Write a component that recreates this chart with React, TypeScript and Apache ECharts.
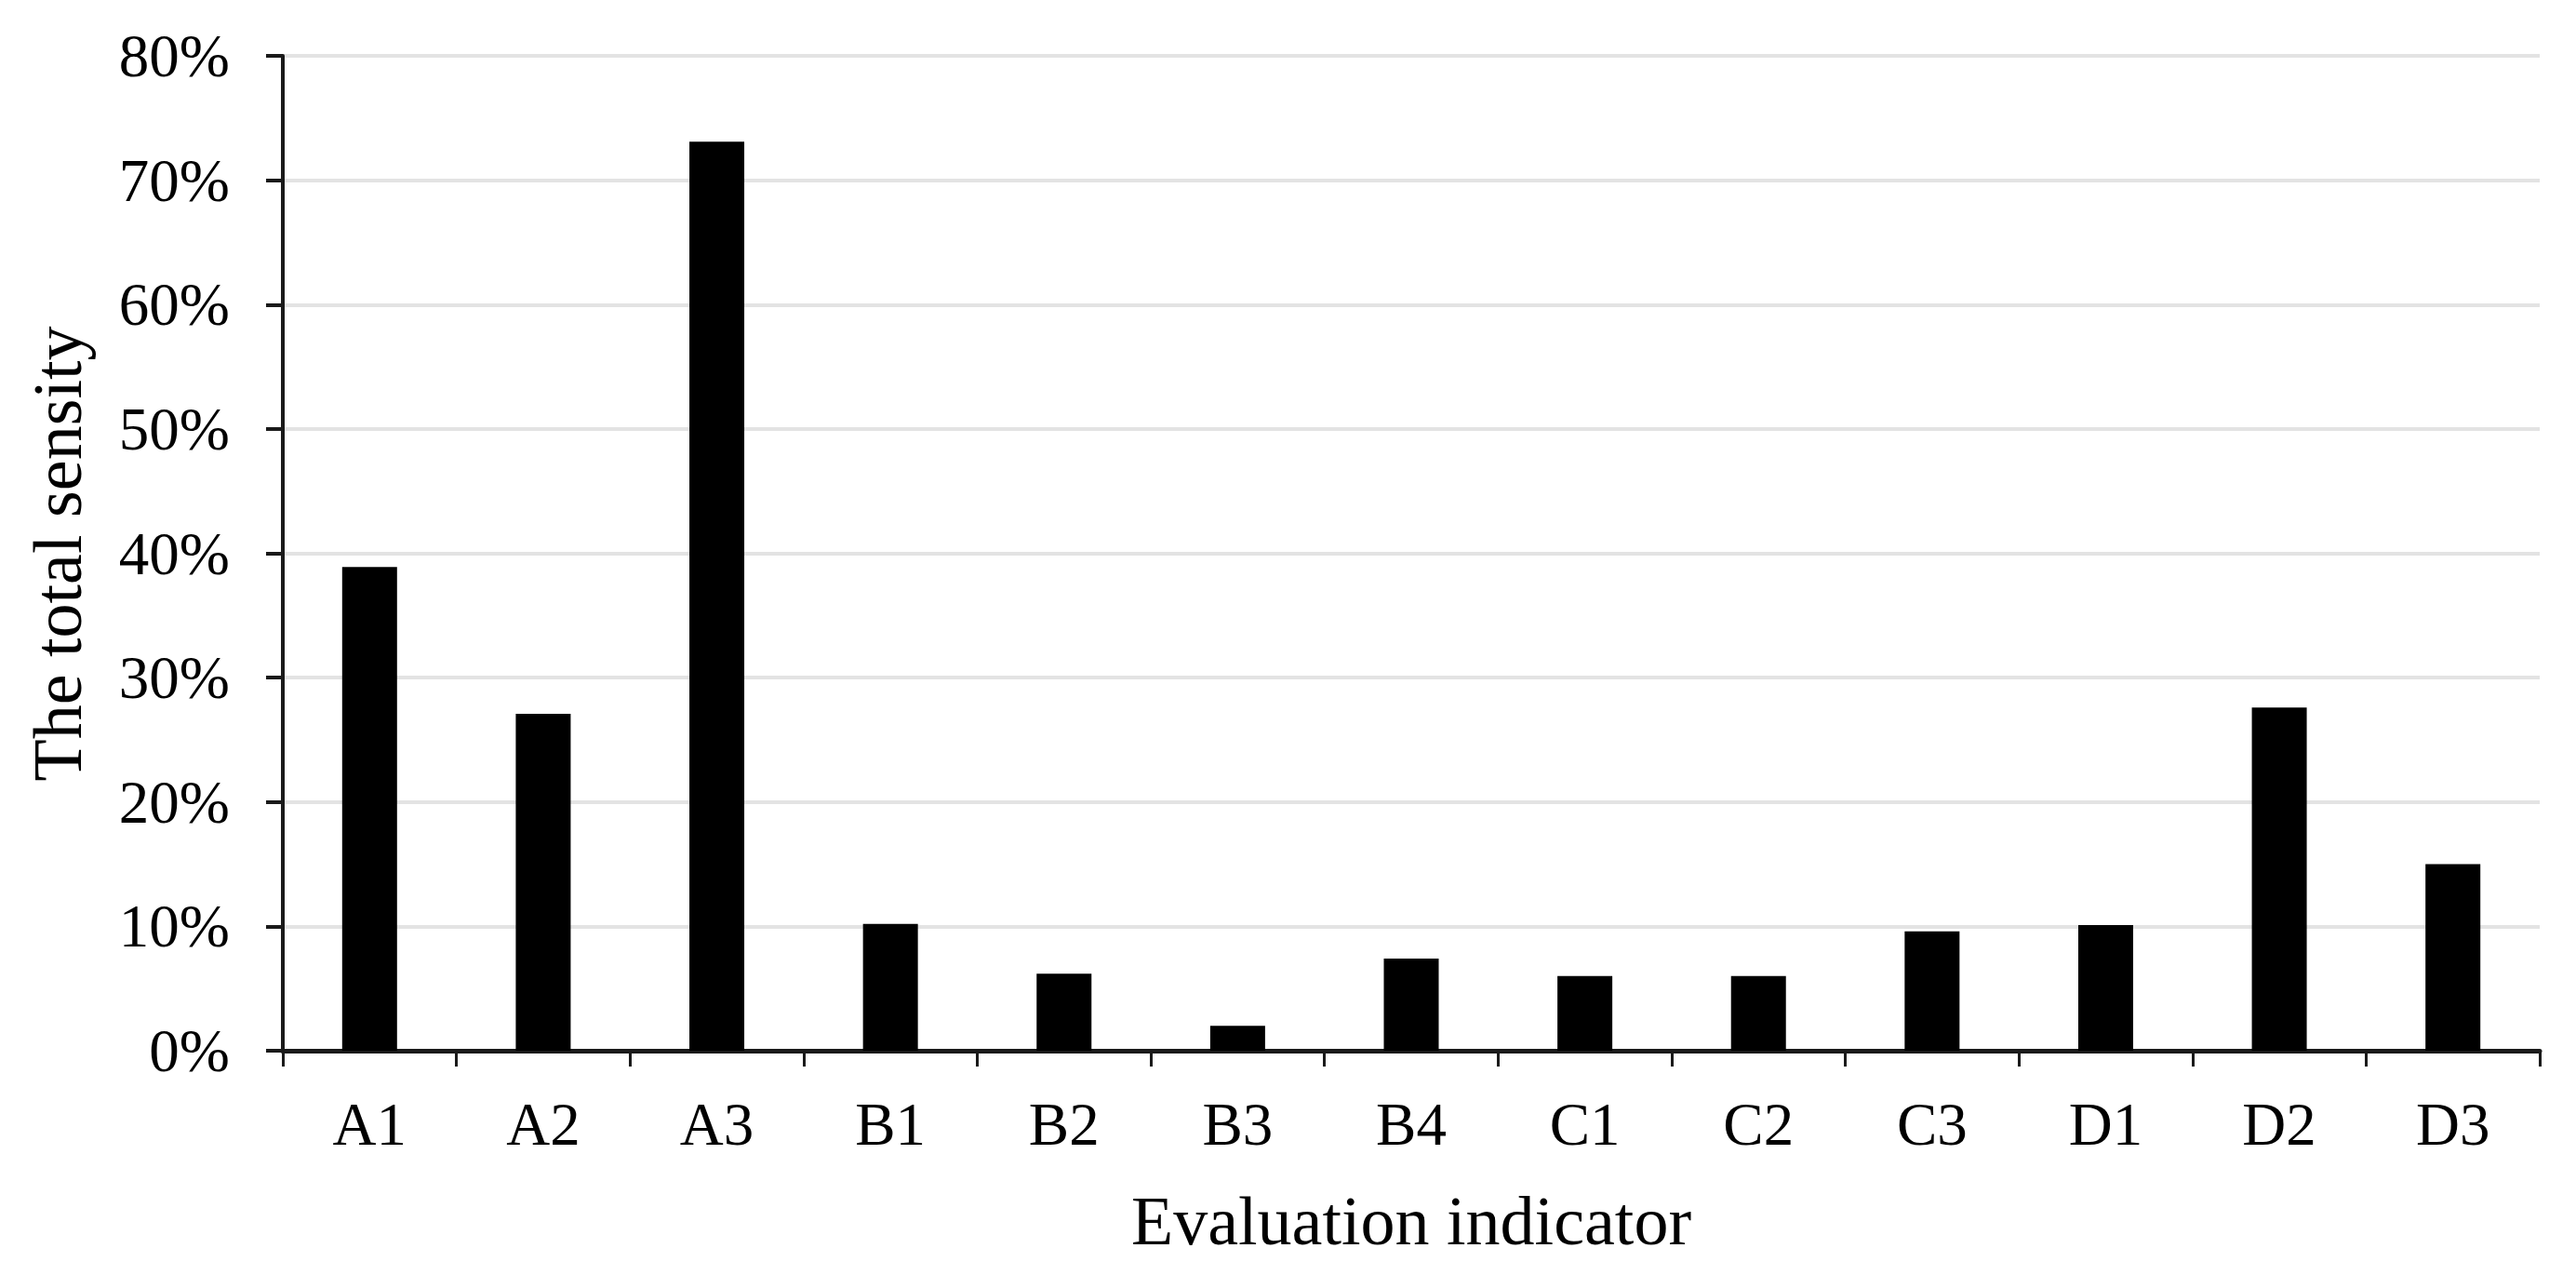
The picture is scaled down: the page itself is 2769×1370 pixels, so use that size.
import React, { useEffect, useRef } from "react";
import * as echarts from "echarts";

const categories = ["A1", "A2", "A3", "B1", "B2", "B3", "B4", "C1", "C2", "C3", "D1", "D2", "D3"];
const sensitivity = [0.389, 0.271, 0.731, 0.102, 0.062, 0.02, 0.074, 0.06, 0.06, 0.096, 0.101, 0.276, 0.15];
const yTitle = "The total sensity";
const xTitle = "Evaluation indicator";

const FONT = "'Liberation Serif', 'Times New Roman', serif";

export default function App() {
  const ref = useRef<HTMLDivElement>(null);
  useEffect(() => {
    if (!ref.current) return;
    const chart = echarts.init(ref.current, undefined, { renderer: "svg" });
    const gridLeft = 304;
    const gridRight = 39;
    const gridTop = 60;
    const gridBottom = 1370 - 1129;
    chart.setOption({
      animation: false,
      backgroundColor: "#ffffff",
      grid: { left: gridLeft, right: gridRight, top: gridTop, bottom: gridBottom, containLabel: false },
      xAxis: {
        type: "category",
        data: categories,
        boundaryGap: true,
        axisLine: { show: true, lineStyle: { color: "#1a1a1a", width: 5 } },
        axisTick: { show: true, length: 17, lineStyle: { color: "#1a1a1a", width: 3 } },
        axisLabel: { color: "#000", fontFamily: FONT, fontSize: 65, margin: 46 },
        splitLine: { show: false },
      },
      yAxis: {
        type: "value",
        min: 0,
        max: 0.8,
        interval: 0.1,
        axisLine: { show: true, lineStyle: { color: "#1a1a1a", width: 4 } },
        axisTick: { show: true, length: 18, lineStyle: { color: "#1a1a1a", width: 4 } },
        axisLabel: {
          color: "#000",
          fontFamily: FONT,
          fontSize: 65,
          margin: 57,
          formatter: (v: number) => `${Math.round(v * 100)}%`,
        },
        splitLine: { show: true, lineStyle: { color: "#e3e3e3", width: 4 } },
      },
      series: [
        {
          type: "bar",
          data: sensitivity,
          barWidth: 59,
          itemStyle: { color: "#000000" },
        },
      ],
      graphic: [
        {
          type: "text",
          x: 62,
          y: 595,
          rotation: Math.PI / 2,
          style: {
            text: yTitle,
            font: `74px ${FONT}`,
            fill: "#000",
            align: "center",
            verticalAlign: "middle",
          },
        },
        {
          type: "text",
          x: 1517,
          y: 1312,
          style: {
            text: xTitle,
            font: `74px ${FONT}`,
            fill: "#000",
            align: "center",
            verticalAlign: "middle",
          },
        },
      ],
    });
    return () => chart.dispose();
  }, []);
  return (
    <div
      ref={ref}
      style={{ position: "absolute", left: 0, top: 0, width: 2769, height: 1370, background: "#fff" }}
    />
  );
}
